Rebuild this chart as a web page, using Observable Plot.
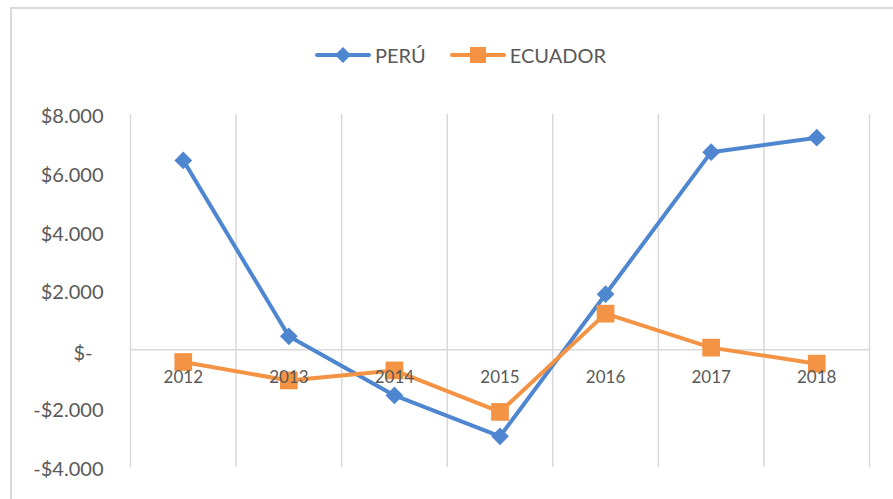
<!DOCTYPE html>
<html>
<head>
<meta charset="utf-8">
<script src="https://cdn.jsdelivr.net/npm/d3@7"></script>
<script src="https://cdn.jsdelivr.net/npm/@observablehq/plot@0.6"></script>
<style>
  html, body { margin: 0; padding: 0; background: #fff; overflow: hidden; }
  body { width: 893px; height: 499px; position: relative; font-family: Lato, "Open Sans", sans-serif; }
  #frame { position: absolute; left: 10px; top: 7px; width: 1000px; height: 1000px;
           border-top: 2px solid #d9d9d9; border-left: 2px solid #d9d9d9; box-sizing: border-box; }
  #legend { position: relative; height: 100px; display: flex; justify-content: center; align-items: center;
            padding-left: 28px; padding-top: 10px; box-sizing: border-box; color: #595959; font-size: 20px; }
  .item { display: flex; align-items: center; }
  .item svg { display: block; }
  .item span { margin-left: 4px; }
  #chart { position: relative; }
</style>
</head>
<body>
<div id="frame"></div>
<div id="legend"></div>
<div id="chart"></div>
<script>
const years = [2012, 2013, 2014, 2015, 2016, 2017, 2018];
const peru = [6440, 460, -1550, -2940, 1890, 6720, 7210];
const ecuador = [-415, -1040, -700, -2110, 1230, 75, -470];
const seriesNames = ["PERÚ", "ECUADOR"];
const yTicks = [-4000, -2000, 0, 2000, 4000, 6000, 8000];

const BLUE = "#4F86D0";
const ORANGE = "#F39343";
const TEXT = "#595959";
const GRID = "#d9d9d9";

const peruData = years.map((y, i) => ({year: y, value: peru[i]}));
const ecuData = years.map((y, i) => ({year: y, value: ecuador[i]}));
const bounds = years.map(y => y - 0.5).concat([years[years.length - 1] + 0.5]);

const fmt = v => v === 0 ? "$-" : (v < 0 ? "-" : "") + "$" + d3.format(",")(Math.abs(v)).replace(/,/g, ".");

// Legend
const legend = document.getElementById("legend");
function swatch(color, shape) {
  const ns = "http://www.w3.org/2000/svg";
  const s = document.createElementNS(ns, "svg");
  s.setAttribute("width", 56); s.setAttribute("height", 22);
  const l = document.createElementNS(ns, "line");
  l.setAttribute("x1", 2); l.setAttribute("x2", 54); l.setAttribute("y1", 11); l.setAttribute("y2", 11);
  l.setAttribute("stroke", color); l.setAttribute("stroke-width", 4); l.setAttribute("stroke-linecap", "round");
  s.appendChild(l);
  let m;
  if (shape === "diamond") {
    m = document.createElementNS(ns, "polygon");
    m.setAttribute("points", "28,3 36,11 28,19 20,11");
  } else {
    m = document.createElementNS(ns, "rect");
    m.setAttribute("x", 20); m.setAttribute("y", 3); m.setAttribute("width", 16); m.setAttribute("height", 16);
  }
  m.setAttribute("fill", color);
  s.appendChild(m);
  return s;
}
[[seriesNames[0], BLUE, "diamond"], [seriesNames[1], ORANGE, "square"]].forEach(([name, c, sh], i) => {
  const it = document.createElement("div");
  it.className = "item";
  if (i > 0) it.style.marginLeft = "24px";
  it.appendChild(swatch(c, sh));
  const t = document.createElement("span");
  t.textContent = name;
  it.appendChild(t);
  legend.appendChild(it);
});

const chart = Plot.plot({
  width: 893,
  height: 399,
  marginLeft: 130,
  marginRight: 24,
  marginTop: 14,
  marginBottom: 32,
  style: {fontFamily: "Lato, 'Open Sans', sans-serif", background: "transparent", overflow: "visible"},
  x: {type: "linear", domain: [bounds[0], bounds[bounds.length - 1]], axis: null},
  y: {domain: [-4000, 8000], axis: null},
  marks: [
    Plot.ruleX(bounds, {stroke: GRID, strokeWidth: 1.5}),
    Plot.ruleY([0], {stroke: GRID, strokeWidth: 1.5}),
    Plot.text(yTicks.filter(d => d !== 0), {y: d => d, text: fmt, frameAnchor: "left", textAnchor: "end", dx: -27, dy: 2, fontSize: 20, fill: TEXT}),
    Plot.text(yTicks.filter(d => d === 0), {y: d => d, text: fmt, frameAnchor: "left", textAnchor: "end", dx: -38, dy: 4, fontSize: 20, fill: TEXT}),
    Plot.line(peruData, {x: "year", y: "value", stroke: BLUE, strokeWidth: 4}),
    Plot.dot(peruData, {x: "year", y: "value", symbol: "diamond2", r: 8, fill: BLUE, stroke: null}),
    Plot.line(ecuData, {x: "year", y: "value", stroke: ORANGE, strokeWidth: 4}),
    Plot.dot(ecuData, {x: "year", y: "value", symbol: "square", r: 10, fill: ORANGE, stroke: null}),
    Plot.text(years, {x: d => d, y: 0, text: d => String(d), dy: 28, fontSize: 17, fill: TEXT})
  ]
});
document.getElementById("chart").appendChild(chart);
</script>
</body>
</html>
